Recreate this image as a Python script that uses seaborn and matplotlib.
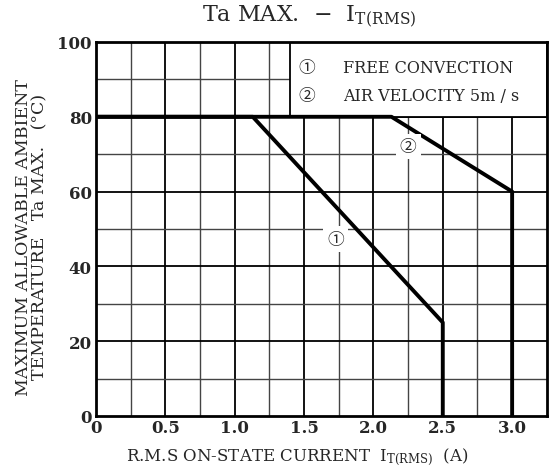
import matplotlib.pyplot as plt
import matplotlib.patches as mpatches
import numpy as np
import seaborn as sns

# derating curves
free_x = [0, 1.13, 2.5, 2.5]
free_y = [80, 80, 25, 0]
air_x = [0, 2.13, 3.0, 3.0]
air_y = [80, 80, 60, 0]

x_ticks = [0, 0.5, 1.0, 1.5, 2.0, 2.5, 3.0]
x_tick_labels = ["0", "0.5", "1.0", "1.5", "2.0", "2.5", "3.0"]
y_ticks = [0, 20, 40, 60, 80, 100]
legend_marks = ["\u2460", "\u2461"]
legend_lines = ["FREE CONVECTION", "AIR VELOCITY 5m / s"]

sns.set_style("white")
fams = ["DejaVu Serif", "Noto Sans CJK JP"]
plt.rcParams["font.family"] = fams
plt.rcParams["mathtext.fontset"] = "dejavuserif"

fig = plt.figure(figsize=(5.49, 4.77), dpi=100)
ax = fig.add_axes([0.1749, 0.1258, 0.8211, 0.7841])

ax.set_xlim(0, 3.25)
ax.set_ylim(0, 100)

# grid: finer lines every 0.25 / 10, darker every 0.5 / 20
for gx in np.arange(0.25, 3.25, 0.25):
    heavy = abs(gx * 2 - round(gx * 2)) < 1e-6
    ax.axvline(gx, color="black" if heavy else "#444444", lw=1.3 if heavy else 1.0, zorder=1)
for gy in range(10, 100, 10):
    heavy = gy % 20 == 0
    ax.axhline(gy, color="black" if heavy else "#444444", lw=1.3 if heavy else 1.0, zorder=1)

sns.lineplot(x=free_x, y=free_y, sort=False, estimator=None, color="black", lw=2.8, ax=ax, zorder=4)
sns.lineplot(x=air_x, y=air_y, sort=False, estimator=None, color="black", lw=2.8, ax=ax, zorder=4)

# legend box in the upper right
ax.add_patch(mpatches.Rectangle((1.40, 80), 1.85, 20, facecolor="white", edgecolor="black",
                                lw=1.3, zorder=3))
for i, (m, t) in enumerate(zip(legend_marks, legend_lines)):
    yy = 93.2 - 7.4 * i
    ax.text(1.52, yy, m, fontsize=12, va="center", ha="center", zorder=5)
    ax.text(1.78, yy, t, fontsize=11.5, va="center", zorder=5)

ax.text(1.73, 47.3, legend_marks[0], fontsize=12, ha="center", va="center", zorder=5,
        bbox=dict(facecolor="white", edgecolor="none", pad=3))
ax.text(2.25, 72, legend_marks[1], fontsize=12, ha="center", va="center", zorder=5,
        bbox=dict(facecolor="white", edgecolor="none", pad=3))

ax.set_xticks(x_ticks)
ax.set_xticklabels(x_tick_labels)
ax.set_yticks(y_ticks)
ax.tick_params(length=0, labelsize=12, pad=2)
ax.tick_params(axis="y", pad=3)
for lab in ax.get_xticklabels() + ax.get_yticklabels():
    lab.set_fontweight("bold")

for s in ax.spines.values():
    s.set_linewidth(2.0)
    s.set_color("black")
    s.set_zorder(6)

fig.text(0.563, 0.965, r"Ta MAX.  $-$  I$_{\mathrm{T(RMS)}}$", fontsize=16, ha="center", va="center")
fig.text(0.541, 0.042, r"R.M.S ON-STATE CURRENT  I$_{\mathrm{T(RMS)}}$  (A)", fontsize=12,
         ha="center", va="center")
fig.text(0.058, 0.503, "MAXIMUM ALLOWABLE AMBIENT\nTEMPERATURE   Ta MAX.   (\u00b0C)",
         fontsize=12.5, rotation=90, ha="center", va="center", linespacing=1.0)

fig.savefig("out.png", dpi=100)
